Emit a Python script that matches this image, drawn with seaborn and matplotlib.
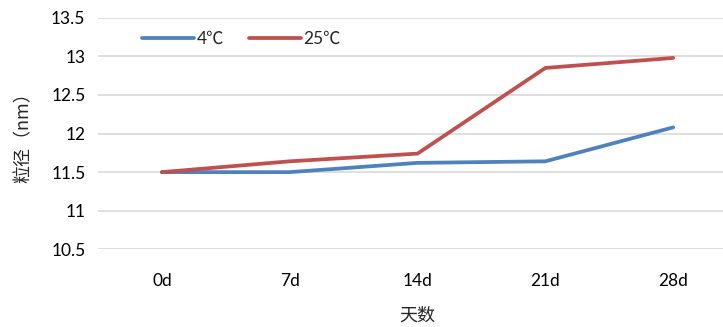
import pandas as pd
import numpy as np
import matplotlib
matplotlib.use("Agg")
import matplotlib.pyplot as plt
import seaborn as sns

# --------------------------------------------------
# Data
# --------------------------------------------------

days = ['0d', '7d', '14d', '21d', '28d']
size_4c = [11.50, 11.50, 11.62, 11.64, 12.08]
size_25c = [11.50, 11.64, 11.74, 12.85, 12.98]
series_names = ['4℃', '25℃']

df = pd.DataFrame({
    'day': days * 2,
    'size': size_4c + size_25c,
    'temp': [series_names[0]] * len(days) + [series_names[1]] * len(days),
})
df['pos'] = list(range(len(days))) * 2

# --------------------------------------------------
# Style
# --------------------------------------------------

sns.set_theme(style='white')
plt.rcParams['font.family'] = ['Lato', 'Noto Sans CJK SC', 'DejaVu Sans']

fig = plt.figure(figsize=(7.23, 3.27), dpi=100)
ax = fig.add_axes([0.1355, 0.2376, 0.884, 0.708])

sns.lineplot(
    data=df, x='pos', y='size', hue='temp',
    palette=['#4F81BD', '#C0504D'], linewidth=2.7,
    ax=ax, legend=True
)

ax.set_xlim(-0.5, 4.5)
ax.set_ylim(10.5, 13.5)
ax.set_yticks(np.arange(10.5, 13.51, 0.5))
ax.set_yticklabels(['10.5', '11', '11.5', '12', '12.5', '13', '13.5'])
ax.set_xticks(range(len(days)))
ax.set_xticklabels(days)
ax.tick_params(axis='both', length=0, labelsize=12.5, colors='#000000')
ax.tick_params(axis='x', pad=17)
ax.tick_params(axis='y', pad=9)

ax.grid(axis='y', color='#D9D9D9', linewidth=1.2)
ax.set_axisbelow(True)
for s in ax.spines.values():
    s.set_visible(False)

ax.set_xlabel('天数', fontsize=13, family=['Noto Sans CJK SC'], labelpad=13)
ax.set_ylabel('粒径（nm）', fontsize=13, family=['Noto Sans CJK SC'], labelpad=13)

leg = ax.legend(
    loc='upper left', bbox_to_anchor=(0.045, 1.01), ncol=2, frameon=False,
    fontsize=12.5, handlelength=3.0, handletextpad=0.15, columnspacing=1.4
)
for line in leg.get_lines():
    line.set_linewidth(2.7)

fig.savefig('out.png', dpi=100)
